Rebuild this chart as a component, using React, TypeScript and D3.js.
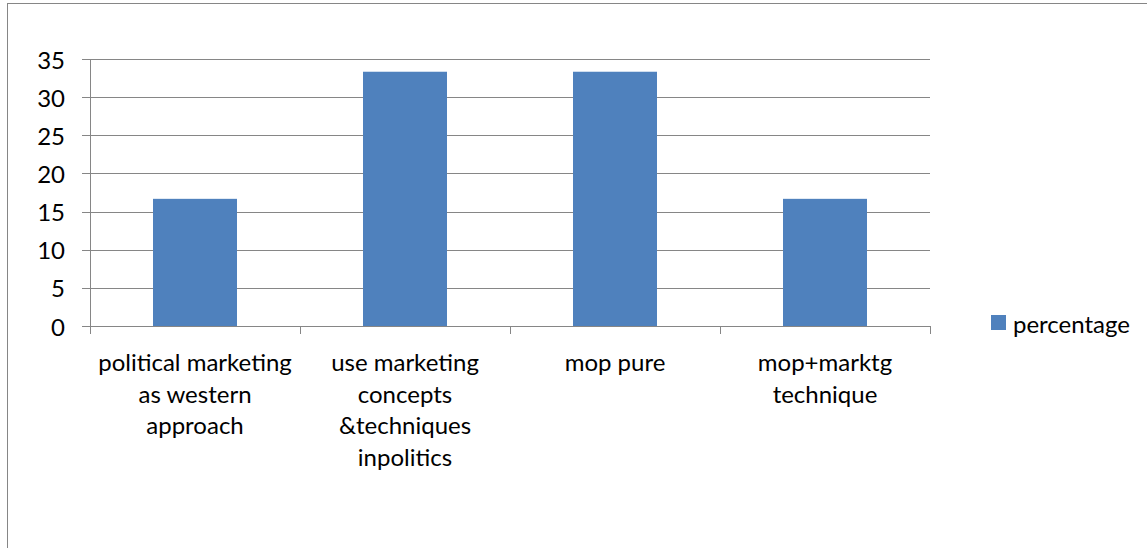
import React from "react";
import * as d3 from "d3";

const categories: string[][] = [
  ["political marketing", "as western", "approach"],
  ["use marketing", "concepts", "&techniques", "inpolitics"],
  ["mop pure"],
  ["mop+marktg", "technique"],
];
const values: number[] = [16.67, 33.33, 33.33, 16.67];
const yTicks: number[] = [0, 5, 10, 15, 20, 25, 30, 35];
const seriesName = "percentage";

const W = 1147;
const H = 548;
const plot = { left: 90, right: 930, top: 59, bottom: 326 };
const FONT = "Lato, 'Open Sans', sans-serif";
const FS = 24;
const GRID = "#868686";
const BAR = "#4F81BD";

export default function App() {
  const keys = categories.map((_, i) => String(i));
  const x = d3.scaleBand<string>().domain(keys).range([plot.left, plot.right]).paddingInner(0).paddingOuter(0);
  const y = d3.scaleLinear().domain([0, 35]).range([plot.bottom, plot.top]);
  const bw = x.bandwidth() / 2.5;
  const boundaries = keys.map((k) => x(k)!).concat([plot.right]);

  return (
    <svg
      width={W}
      height={H}
      style={{ position: "absolute", left: 0, top: 0, background: "#fff" }}
      fontFamily={FONT}
    >
      <rect x={0} y={0} width={W} height={H} fill="#fff" />
      <rect x={7.5} y={3.5} width={W + 50} height={H + 50} fill="none" stroke={GRID} strokeWidth={1} />
      {yTicks.map((t) => (
        <g key={t}>
          <line x1={plot.left - 8} x2={plot.right} y1={Math.round(y(t)) + 0.5} y2={Math.round(y(t)) + 0.5} stroke={GRID} strokeWidth={1} />
          <text x={65} y={y(t)} textAnchor="end" dominantBaseline="central" fontSize={FS} fill="#000">
            {t}
          </text>
        </g>
      ))}
      <line x1={plot.left + 0.5} x2={plot.left + 0.5} y1={plot.top} y2={plot.bottom + 8} stroke={GRID} strokeWidth={1} />
      {boundaries.map((b, i) => (
        <line key={i} x1={Math.round(b) + 0.5} x2={Math.round(b) + 0.5} y1={plot.bottom} y2={plot.bottom + 8} stroke={GRID} strokeWidth={1} />
      ))}
      {values.map((v, i) => {
        const cx = x(keys[i])! + x.bandwidth() / 2;
        return <rect key={i} x={cx - bw / 2} y={y(v)} width={bw} height={y(0) - y(v)} fill={BAR} />;
      })}
      <line x1={plot.left} x2={plot.right} y1={plot.bottom + 0.5} y2={plot.bottom + 0.5} stroke={GRID} strokeWidth={1} />
      {categories.map((lines, i) => {
        const cx = x(keys[i])! + x.bandwidth() / 2;
        return (
          <text key={i} x={cx} y={371} textAnchor="middle" fontSize={FS} fill="#000">
            {lines.map((l, j) => (
              <tspan key={j} x={cx} dy={j === 0 ? 0 : 31.5}>
                {l}
              </tspan>
            ))}
          </text>
        );
      })}
      <rect x={991} y={315} width={15} height={15} fill={BAR} />
      <text x={1013} y={323} dominantBaseline="central" fontSize={FS} fill="#000">
        {seriesName}
      </text>
    </svg>
  );
}
